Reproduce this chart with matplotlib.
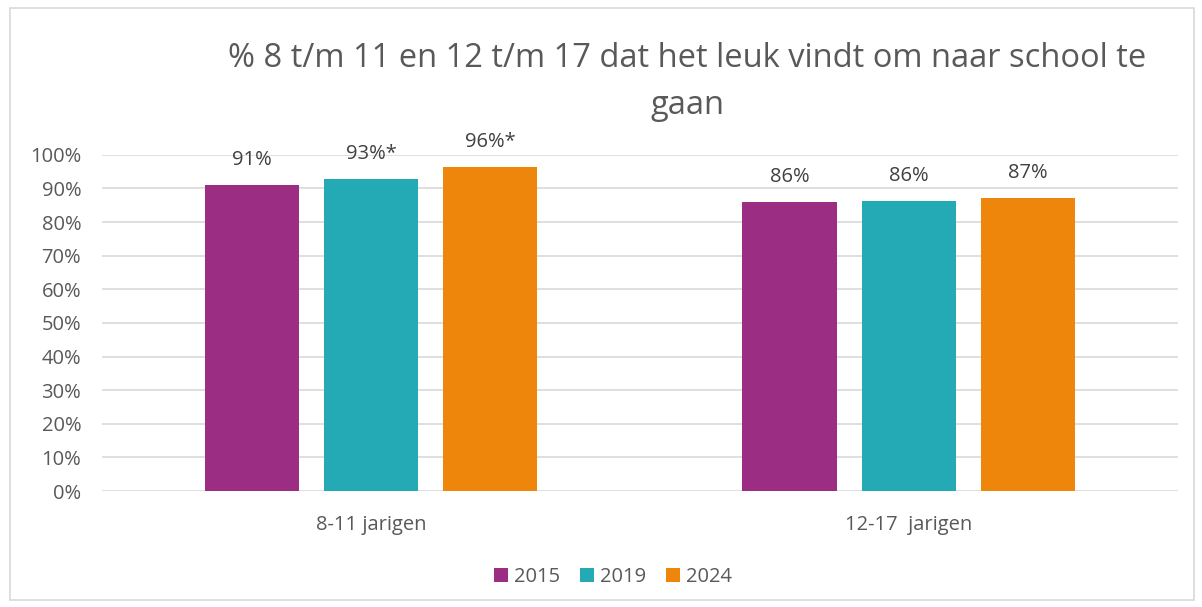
import matplotlib.pyplot as plt
import numpy as np

# data
groups = ['8-11 jarigen', '12-17  jarigen']
years = ['2015', '2019', '2024']
vals_2015 = [0.911, 0.859]
vals_2019 = [0.929, 0.862]
vals_2024 = [0.964, 0.872]
labels_2015 = ['91%', '86%']
labels_2019 = ['93%*', '86%']
labels_2024 = ['96%*', '87%']

colors = ['#9B2D82', '#23AAB5', '#EE860C']
txt = '#595959'

plt.rcParams['font.family'] = ['Open Sans', 'DejaVu Sans']

fig = plt.figure(figsize=(12.02, 6.07), dpi=100)
ax = fig.add_axes([0.0849, 0.191, 0.895, 0.554])

x = np.arange(len(groups))
w = 0.175
step = 0.222
series = [vals_2015, vals_2019, vals_2024]
labs = [labels_2015, labels_2019, labels_2024]
for i, (vals, ll) in enumerate(zip(series, labs)):
    pos = x + (i - 1) * step
    ax.bar(pos, vals, width=w, color=colors[i], label=years[i], zorder=3)
    for p, v, l in zip(pos, vals, ll):
        ax.annotate(l, (p, v), xytext=(0, 18), textcoords='offset points',
                    ha='center', va='center', fontsize=14.5, color='#404040')

ax.set_xlim(-0.5, 1.5)
ax.set_ylim(0, 1.0)
ax.set_yticks(np.arange(0, 1.01, 0.1))
ax.set_yticklabels([f'{int(round(t*100))}%' for t in np.arange(0, 1.01, 0.1)])
ax.set_xticks(x)
ax.set_xticklabels(groups)
ax.tick_params(axis='both', length=0, labelsize=14.5, colors=txt)
ax.tick_params(axis='x', pad=17)
ax.tick_params(axis='y', pad=15)
ax.grid(axis='y', color='#d9d9d9', linewidth=1.2, zorder=0)
for s in ax.spines.values():
    s.set_visible(False)

fig.text(0.572, 0.903, '% 8 t/m 11 en 12 t/m 17 dat het leuk vindt om naar school te',
         ha='center', va='center', fontsize=23.5, color=txt)
fig.text(0.572, 0.827, 'gaan', ha='center', va='center', fontsize=23.5, color=txt)

ax.legend(loc='center', bbox_to_anchor=(0.51, 0.050), bbox_transform=fig.transFigure,
          ncol=3, frameon=False, fontsize=14.5, handlelength=0.7, handleheight=0.7,
          handletextpad=0.3, columnspacing=1.0, labelcolor=txt)

# outer chart border
fig.patches.append(plt.Rectangle((0.008, 0.012), 0.985, 0.975, transform=fig.transFigure,
                                 fill=False, edgecolor='#d9d9d9', linewidth=1.2))

fig.savefig('out.png', dpi=100)
